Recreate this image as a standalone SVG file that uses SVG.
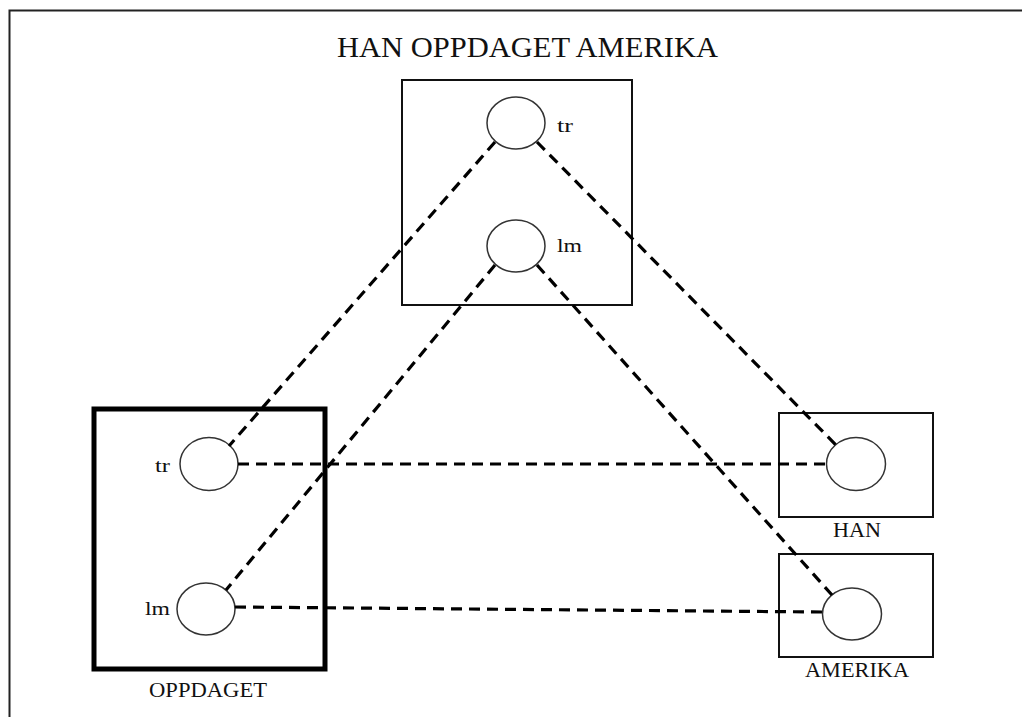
<svg xmlns="http://www.w3.org/2000/svg" width="1022" height="717" viewBox="0 0 1022 717">
  <style>
    .frame { fill: none; stroke: #222; stroke-width: 2; }
    .box { fill: #fff; stroke: #111; stroke-width: 2; }
    .thick { fill: #fff; stroke: #000; stroke-width: 5; }
    .port { fill: #fff; stroke: #333; stroke-width: 1.5; }
    .conn { fill: none; stroke: #000; stroke-width: 3.2; stroke-dasharray: 11 7; }
    text { font-family: "Liberation Serif", "Times New Roman", serif; fill: #111; }
    .title { font-size: 30px; }
    .lbl { font-size: 20px; }
    .port-lbl { font-size: 19px; }
  </style>
  <rect width="1022" height="717" fill="#fff"/>
  <rect class="frame" x="9.5" y="10.5" width="1040" height="740"/>
  <text class="title" x="337" y="57" textLength="381" lengthAdjust="spacingAndGlyphs">HAN OPPDAGET AMERIKA</text>

  <g id="node-top">
    <rect class="box" x="402" y="80" width="230" height="225"/>
    <ellipse class="port" cx="516" cy="123" rx="29" ry="26"/>
    <text class="port-lbl" x="557" y="132" textLength="16" lengthAdjust="spacingAndGlyphs">tr</text>
    <ellipse class="port" cx="516" cy="246" rx="29" ry="26"/>
    <text class="port-lbl" x="557" y="252" textLength="25" lengthAdjust="spacingAndGlyphs">lm</text>
  </g>

  <g id="node-oppdaget">
    <rect class="thick" x="94" y="409" width="231" height="260"/>
    <ellipse class="port" cx="209" cy="464" rx="29" ry="26.5"/>
    <text class="port-lbl" x="155" y="472" textLength="15" lengthAdjust="spacingAndGlyphs">tr</text>
    <ellipse class="port" cx="206" cy="609" rx="29" ry="26"/>
    <text class="port-lbl" x="145" y="615" textLength="25" lengthAdjust="spacingAndGlyphs">lm</text>
    <text class="lbl" x="149" y="697" textLength="118" lengthAdjust="spacingAndGlyphs">OPPDAGET</text>
  </g>

  <g id="node-han">
    <rect class="box" x="779" y="413" width="154" height="104"/>
    <ellipse class="port" cx="856" cy="464" rx="29.5" ry="26.5"/>
    <text class="lbl" x="833" y="537" textLength="48" lengthAdjust="spacingAndGlyphs">HAN</text>
  </g>

  <g id="node-amerika">
    <rect class="box" x="779" y="554" width="154" height="103"/>
    <ellipse class="port" cx="852" cy="614" rx="29.5" ry="26"/>
    <text class="lbl" x="805" y="677" textLength="104" lengthAdjust="spacingAndGlyphs">AMERIKA</text>
  </g>

  <g id="connectors">
    <line class="conn" x1="495" y1="142" x2="229" y2="446"/>
    <line class="conn" x1="537" y1="142" x2="836" y2="445"/>
    <line class="conn" x1="495" y1="265" x2="226" y2="590"/>
    <line class="conn" x1="537" y1="265" x2="832" y2="595"/>
    <line class="conn" x1="238" y1="464" x2="827" y2="464"/>
    <line class="conn" x1="235" y1="607" x2="823" y2="612"/>
  </g>
</svg>
